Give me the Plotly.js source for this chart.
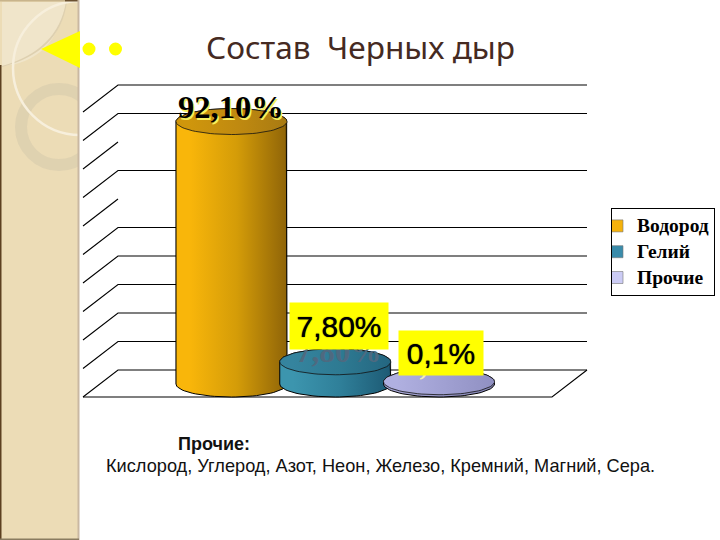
<!DOCTYPE html>
<html><head><meta charset="utf-8">
<script src="https://cdn.plot.ly/plotly-3.0.1.min.js"></script>
<style>html,body{margin:0;padding:0;background:#fff}#c{width:720px;height:540px}
.legendtext{font-size:19.5px !important}</style>
</head><body><div id="c"></div>
<script>
const categories = ["Водород", "Гелий", "Прочие"];
const percentValues = [92.1, 7.8, 0.1];
const valueLabels = ["92,10%", "7,80%", "0,1%"];
const swatchColors = ["#f5b20c", "#3a8cab", "#ccccf5"];
const bodyStops = [["#f9b60a","#d49c08","#8f6408"],["#3c95ae","#2f7f99","#1d5a74"],["#a8a8d8","#9898c8","#8484b4"]];
const topStops = [["#cf960c","#c08a10","#a87a12"],["#35849e","#2e7a92","#246680"],["#b0b0e0","#a0a0d2","#9090c2"]];
const gridValues = [0,10,20,30,40,50,60,70,80,90,100];
const hiddenRows = [60,80];
const footerHead = "Прочие:";
const footerLine = "Кислород, Углерод, Азот, Неон, Железо, Кремний, Магний, Сера.";
const titleText = "Состав\u00A0\u00A0Черных дыр";

const W=720,H=540;
const pxPerUnit=2.85, zeroY=370;
const x0=231.5, step=103.75;
const xOf=px=>(px-x0)/step;
const yOf=py=>(zeroY-py)/pxPerUnit;
const floorBase=yOf(384);
const halfW=55.5/step, halfH=13/pxPerUnit;
const wallL=118, wallR=587, depthX=35, depthY=27;

// background helpers (paper coords)
const X=p=>p/W, Y=p=>1-p/H;
const rect=(a,b,c,d,fill)=>({type:'rect',xref:'paper',yref:'paper',x0:X(a),x1:X(c),y0:Y(b),y1:Y(d),fillcolor:fill,line:{width:0},layer:'below'});
const circ=(cx,cy,r,fill,lc,lw)=>({type:'circle',xref:'paper',yref:'paper',x0:X(cx-r),x1:X(cx+r),y0:Y(cy-r),y1:Y(cy+r),fillcolor:fill,line:{color:lc,width:lw},layer:'below'});
const poly=(pts,fill)=>({type:'path',xref:'paper',yref:'paper',path:pts,fillcolor:fill,line:{width:0},layer:'below'});
const P=(x,y)=>X(x).toFixed(5)+','+Y(y).toFixed(5);

const shapes=[
 rect(0,0,79,540,'#ecdcb6'),
 poly('M'+P(2,66)+' Q'+P(55,62)+' '+P(66,2)+' L'+P(2,2)+' Z','#f0e5ca'),
 poly('M'+P(66,2)+' Q'+P(58,50)+' '+P(2,66)+' L'+P(2,67)+' Q'+P(60,52)+' '+P(67,2)+' Z','#ded0b0'),
 circ(59,127,38,'rgba(0,0,0,0)','rgba(205,195,170,0.42)',12),
 circ(80,68,67,'rgba(0,0,0,0)','#f7efdc',2.5),
 rect(79,0,152,205,'#ffffff'),
 rect(0,65,1.5,540,'#5c4020'),
 rect(65,0,79,1.5,'#6a5030'),
 rect(0,0,65,1.5,'#c8b48c'),
 rect(77.5,0,79.5,540,'#c9b8a2'),
 rect(0,538.5,79,540,'#8a7c60'),
 poly('M'+P(41,49)+' L'+P(80,31)+' L'+P(80,68)+' Z','#ffff00'),
 circ(89,49,6.5,'#ffff00','#ffff00',0),
 circ(115.5,49,6.5,'#ffff00','#ffff00',0)
];

const traces=[];
// gridlines from values
const gx=[],gy=[];
gridValues.forEach(v=>{
  const vOff=depthY/pxPerUnit;
  gx.push(xOf(wallL-depthX),xOf(wallL)); gy.push(v-vOff,v);
  if(!hiddenRows.includes(v)){gx.push(xOf(wallL),xOf(wallR)); gy.push(v,v);}
  gx.push(null); gy.push(null);
});
gx.push(xOf(wallL-depthX),xOf(wallR-depthX),xOf(wallR));
gy.push(-depthY/pxPerUnit,-depthY/pxPerUnit,0);
traces.push({type:'scatter',mode:'lines',x:gx,y:gy,line:{color:'#000',width:1.1},showlegend:false,hoverinfo:'skip',connectgaps:false});

// real bars: base of cylinders
categories.forEach((c,i)=>{
  traces.push({type:'bar',name:c,legendgroup:c,x:[i],y:[percentValues[i]],base:[floorBase],width:[2*halfW],
    marker:{color:swatchColors[i],line:{color:'#777',width:0.6}},showlegend:true,hoverinfo:'skip'});
});
// cylinder overlays
const N=40;
const grad=(st)=>({type:'horizontal',colorscale:[[0,st[0]],[0.12,st[0]],[0.55,st[1]],[1,st[2]]]});
categories.forEach((c,i)=>{
  const v=Math.max(percentValues[i],0.8);
  const top=floorBase+v, cx=i;
  const bx=[],by=[];
  for(let k=0;k<=N;k++){const a=Math.PI*k/N; bx.push(cx-halfW*Math.cos(a)); by.push(floorBase-halfH*Math.sin(a));}
  for(let k=0;k<=N;k++){const a=Math.PI*k/N; bx.push(cx+halfW*Math.cos(a)); by.push(top+halfH*Math.sin(a));}
  bx.push(bx[0]); by.push(by[0]);
  traces.push({type:'scatter',mode:'lines',x:bx,y:by,fill:'toself',fillgradient:grad(bodyStops[i]),line:{color:'#000',width:1},showlegend:false,hoverinfo:'skip'});
  const tx=[],ty=[];
  for(let k=0;k<=2*N;k++){const a=Math.PI*k/N; tx.push(cx+halfW*Math.cos(a)); ty.push(top+halfH*Math.sin(a));}
  traces.push({type:'scatter',mode:'lines',x:tx,y:ty,fill:'toself',fillgradient:grad(topStops[i]),line:{color:'#111',width:0.8},showlegend:false,hoverinfo:'skip'});
});

const tops=percentValues.map(v=>floorBase+v);
const annotations=[
 // ghost labels lying on the cylinder tops
 {xref:'x',yref:'y',x:1,y:tops[1],xshift:3,yshift:10,text:valueLabels[1],showarrow:false,font:{family:'Liberation Serif',size:31,color:'#4e6a80',weight:700}},
 {xref:'x',yref:'y',x:2,y:tops[2],xshift:0,yshift:19,text:valueLabels[2],showarrow:false,font:{family:'Liberation Serif',size:31,color:'#f2eeb0',weight:700}},
 {xref:'x',yref:'y',x:0,y:tops[0],xshift:-1,yshift:15,text:valueLabels[0],showarrow:false,font:{family:'Liberation Serif',size:32.5,color:'#000',weight:700,shadow:'1.5px 1.5px 0 #f6f060'}},
 {xref:'x',yref:'y',x:1,y:tops[1],xshift:4,yshift:36,width:98,height:46,borderpad:0,bgcolor:'#ffff00',text:valueLabels[1],showarrow:false,font:{family:'Liberation Sans',size:30,color:'#000',shadow:'0 0 1px #000'}},
 {xref:'x',yref:'y',x:2,y:tops[2],xshift:2,yshift:31,width:84,height:44,borderpad:0,bgcolor:'#ffff00',text:valueLabels[2],showarrow:false,font:{family:'Liberation Sans',size:30,color:'#000',shadow:'0 0 1px #000'}},
 {xref:'paper',yref:'paper',x:X(214),y:Y(444),xanchor:'center',yanchor:'middle',text:footerHead,showarrow:false,font:{family:'Liberation Sans',size:18,color:'#111',weight:700}},
 {xref:'paper',yref:'paper',x:X(380),y:Y(466),xanchor:'center',yanchor:'middle',text:footerLine,showarrow:false,font:{family:'Liberation Sans',size:18.2,color:'#111'}}
];

const layout={
 width:W,height:H,margin:{l:0,r:0,t:0,b:0},paper_bgcolor:'#fff',plot_bgcolor:'rgba(0,0,0,0)',
 title:{text:titleText,xref:'paper',yref:'paper',x:360.5/W,y:1-48/H,xanchor:'center',yanchor:'middle',font:{family:'Noto Sans',size:31.6,color:'#452a22'}},
 xaxis:{visible:false,range:[xOf(0),xOf(W)],fixedrange:true},
 yaxis:{visible:false,range:[yOf(H),yOf(0)],fixedrange:true},
 barmode:'overlay',
 showlegend:true,
 legend:{x:X(611),y:Y(208),xanchor:'left',yanchor:'top',bgcolor:'#fff',bordercolor:'#000',borderwidth:1,
   font:{family:'Liberation Serif',size:16,color:'#000',weight:700},traceorder:'grouped',tracegroupgap:2,indentation:-15,itemclick:false,itemdoubleclick:false},
 shapes,annotations
};
Plotly.newPlot('c',traces,layout,{displayModeBar:false,staticPlot:true});
</script></body></html>
